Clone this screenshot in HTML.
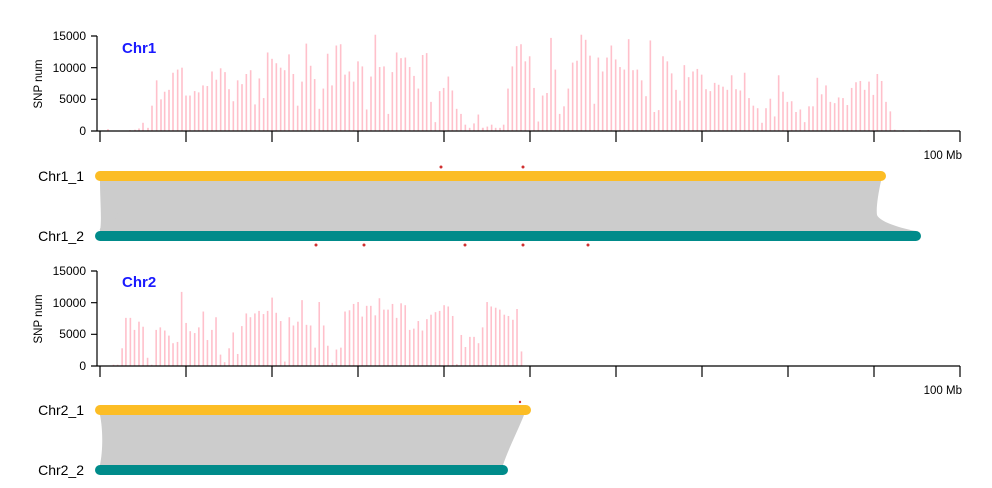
<!DOCTYPE html>
<html><head><meta charset="utf-8"><style>
html,body{margin:0;padding:0;background:#fff;width:992px;height:488px;overflow:hidden}
svg{display:block;font-family:"Liberation Sans",Arial,sans-serif}
</style></head><body>
<svg id="s" width="992" height="488" viewBox="0 0 992 488" xmlns="http://www.w3.org/2000/svg">
<g id="bars1"></g><g id="bars2"></g>
<g stroke="#000" stroke-width="1.2" fill="none">
<path d="M97 36V131M97 36H91M97 67.7H91M97 99.3H91M97 131H91"/>
<path d="M97 131H960"/>
<path id="tk1" d=""/>
<path d="M97 271V366M97 271H91M97 302.7H91M97 334.3H91M97 366H91"/>
<path d="M97 366H960"/>
<path id="tk2" d=""/>
</g>
<g font-size="12" text-anchor="end" fill="#000">
<text x="86" y="40">15000</text><text x="86" y="72">10000</text><text x="86" y="103">5000</text><text x="86" y="135">0</text>
<text x="86" y="275">15000</text><text x="86" y="307">10000</text><text x="86" y="338">5000</text><text x="86" y="370">0</text>
</g>
<text transform="translate(42,84) rotate(-90)" font-size="11.5" text-anchor="middle">SNP num</text>
<text transform="translate(42,319) rotate(-90)" font-size="11.5" text-anchor="middle">SNP num</text>
<text x="122" y="53" font-size="15" font-weight="bold" fill="#1a1aff">Chr1</text>
<text x="122" y="287" font-size="15" font-weight="bold" fill="#1a1aff">Chr2</text>
<text x="962" y="159" font-size="11.5" text-anchor="end">100 Mb</text>
<text x="962" y="394" font-size="11.5" text-anchor="end">100 Mb</text>
<path d="M100 181H881C878 195 876 208 877 215C880 222 900 228 916 231H100C102 220 100 200 100 181Z" fill="#cccccc"/>
<g stroke="#cccccc" stroke-width="0.8" fill="none">
<path d="M102 181L115 231M105 181L140 230M110 181L125 231M115 181L104 231M120 181L100 230M130 181L110 231"/>
</g>
<line x1="100" y1="176" x2="881" y2="176" stroke="#fcbd25" stroke-width="10" stroke-linecap="round"/>
<line x1="100" y1="236" x2="916" y2="236" stroke="#008b8a" stroke-width="10" stroke-linecap="round"/>
<g fill="#d03030">
<circle cx="441" cy="167" r="1.5"/><circle cx="523" cy="167" r="1.5"/>
<circle cx="316" cy="245" r="1.5"/><circle cx="364" cy="245" r="1.5"/><circle cx="465" cy="245" r="1.5"/><circle cx="523" cy="245" r="1.5"/><circle cx="588" cy="245" r="1.5"/>
<circle cx="520" cy="402" r="1.2"/>
</g>
<g font-size="14" text-anchor="end">
<text x="84" y="181">Chr1_1</text><text x="84" y="241">Chr1_2</text>
<text x="84" y="415">Chr2_1</text><text x="84" y="475">Chr2_2</text>
</g>
<path d="M100 415H524C518 430 508 450 503 465H100C103 450 103 430 100 415Z" fill="#cccccc"/>
<line x1="100" y1="410" x2="526" y2="410" stroke="#fcbd25" stroke-width="10" stroke-linecap="round"/>
<line x1="100" y1="470" x2="503" y2="470" stroke="#008b8a" stroke-width="10" stroke-linecap="round"/>
</svg>
<script>
var NS="http://www.w3.org/2000/svg";
function tk(id,y){var d="";for(var i=0;i<=10;i++){var x=100+86*i;d+="M"+x+" "+y+"V"+(y+11);}document.getElementById(id).setAttribute("d",d);}
tk("tk1",131);tk("tk2",366);
function bar(g,x,v,base,scale){if(v<=0)return;var r=document.createElementNS(NS,"rect");var h=v*scale;r.setAttribute("x",x-0.8);r.setAttribute("y",base-h);r.setAttribute("width",1.6);r.setAttribute("height",h);r.setAttribute("fill","#ffc0cb");g.appendChild(r);}
var g1=document.getElementById("bars1"),g2=document.getElementById("bars2");
var sc1=95/15000;
var pre=[[108,300],[130,150],[135,200],[139,400],[143,1300],[148,500]];
pre.forEach(function(p){bar(g1,p[0],p[1],131,sc1)});
var a=[[456,4000],[470,8000],[483,5000],[494,6200],[507,6500],[519,9200],[533,9700],[546,10000],[558,5600],[570,5600],[584,6300],[596,6100],[609,7200],[622,7100],[636,9400],[649,8100],[662,9900],[675,9300],[687,6600],[700,4700],[713,8000],[726,7400],[739,9000],[752,9600],[765,4200],[778,8300],[791,5200],[803,12400],[816,11400],[829,10700],[842,10000],[854,9600],[867,12100],[880,9000],[893,4000],[906,7800],[919,13800],[932,10300],[944,8200],[958,3500],[970,6700],[983,12200],[996,7200],[1009,13500],[1022,13700],[1035,8900],[1048,9400],[1061,7800],[1074,11000],[1087,10200],[1100,3400],[1113,8600],[1126,15200],[1139,10100],[1152,10200],[1165,2700],[1177,9300],[1190,12400],[1203,11500],[1216,11600],[1229,10100],[1242,8700],[1255,6700],[1268,12000],[1280,12300],[1293,4600],[1306,1400],[1319,6300],[1331,6800],[1345,8600],[1357,6400],[1370,3500],[1383,2700],[1396,1000],[1409,500],[1422,1200],[1435,2600],[1448,500]];
a.forEach(function(p){bar(g1,p[0]/3,p[1],131,sc1)});
var b=[[9,500],[22,700],[35,1000],[47,500],[60,500],[71,1000],[84,6700],[97,10200],[110,13400],[123,13700],[136,11000],[149,11800],[162,6800],[175,1500],[188,5600],[201,6000],[213,14700],[226,9700],[239,2700],[252,3900],[265,6700],[278,10800],[291,11100],[304,15200],[317,14400],[330,11900],[343,4300],[355,11600],[368,9400],[381,11600],[394,13500],[407,11300],[420,10100],[433,9700],[446,14500],[459,9600],[472,9700],[485,8000],[498,5500],[511,14300],[523,3000],[536,3300],[549,11800],[562,11000],[575,9100],[588,6500],[600,4800],[613,10400],[626,8500],[639,9400],[652,9800],[665,8900],[678,6600],[691,6300],[704,7600],[716,7300],[729,7000],[742,6500],[755,8800],[768,6600],[781,6400],[794,9200],[807,5200],[820,4000],[833,3600],[846,1300],[858,3600],[871,5100],[884,2300],[896,8800],[909,6200],[922,4600],[935,4700],[948,3000],[961,3400],[974,1400],[987,3900],[999,3900],[1012,8400],[1025,5800],[1038,7200],[1051,4600],[1064,4400],[1076,5300],[1089,5200],[1102,4100],[1115,6800],[1128,7700],[1141,7900],[1154,6500],[1167,7800],[1180,5700],[1192,9000],[1205,7900],[1218,4600],[1231,3100],[1244,200],[1270,150],[1320,150],[1345,150]];
b.forEach(function(p){bar(g1,480+p[0]/3,p[1],131,sc1)});
var sc2=95/15000;
var c=[[330,200],[342,200],[355,2800],[366,7600],[379,7600],[391,5700],[404,7000],[416,6200],[429,1300],[441,200],[454,5700],[466,6100],[479,5600],[491,4800],[503,3600],[516,3800],[528,11700],[541,6800],[553,5500],[566,5200],[578,6100],[591,8600],[603,4100],[616,5700],[628,7700],[641,1800],[653,600],[666,2800],[678,5300],[691,1900],[703,6300],[716,8300],[728,7700],[741,8300],[753,8700],[766,8200],[778,8700],[791,10800],[803,8400],[816,7100],[828,700],[841,7700],[853,6400],[866,7000],[878,10400],[891,6500],[903,6400],[916,2900],[928,10100],[941,6400],[953,3200],[966,500],[978,2600],[991,2900],[1003,8600],[1016,8800],[1028,9800],[1041,10100],[1053,7800],[1066,9500],[1078,9500],[1091,8000],[1103,10700],[1116,8900],[1128,8900],[1141,9800],[1153,7600],[1166,9900],[1178,9600],[1191,5700],[1203,5900],[1216,7100],[1228,5600],[1241,7400],[1253,8100],[1266,8500],[1278,8700],[1291,9600],[1303,9400],[1316,7900],[1328,300],[1341,4900],[1353,3000],[1366,4600],[1378,4600],[1391,3600],[1403,6100],[1416,10100],[1428,9400],[1441,9200],[1453,8900],[1466,8100],[1478,7900],[1491,7300],[1503,9000],[1516,2300]];
c.forEach(function(p){bar(g2,p[0]/2.907,p[1],366,sc2)});
</script>
</body></html>
